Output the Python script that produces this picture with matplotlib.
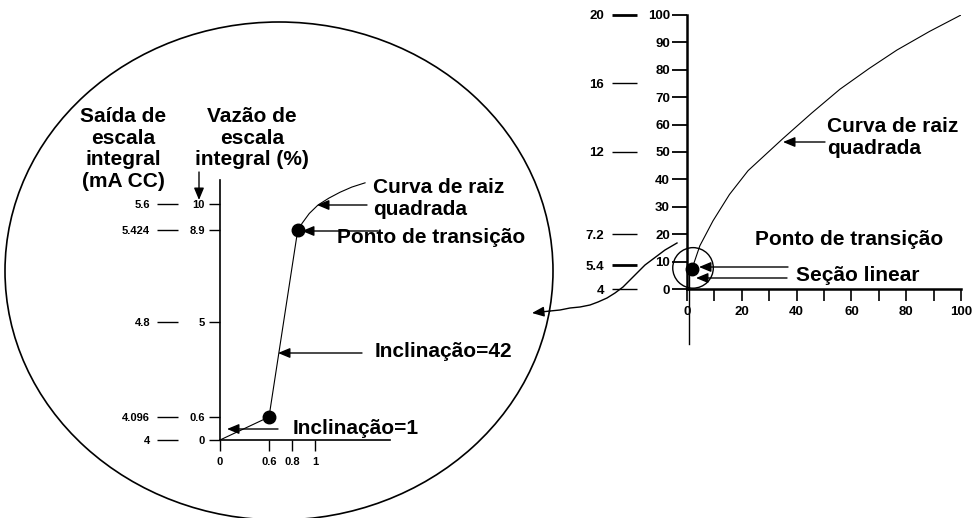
import numpy as np
import matplotlib
matplotlib.use("Agg")
import matplotlib.pyplot as plt
from matplotlib.patches import Ellipse, Circle

plt.rcParams["font.family"] = ["Liberation Sans", "DejaVu Sans"]
plt.rcParams["font.weight"] = "bold"

W, H = 977, 518

# ── Data: zoomed detail (left) ─────────────────────────────
zoom_x_ticks  = [0, 0.6, 0.8, 1]
zoom_x_labels = ["0", "0.6", "0.8", "1"]
zoom_y_ticks  = [0, 0.6, 5, 8.9, 10]
zoom_y_labels = ["0", "0.6", "5", "8.9", "10"]
zoom_ma_labels = ["4", "4.096", "4.8", "5.424", "5.6"]
slope1_x  = [0, 0.6]
slope1_y  = [0, 0.6]
slope42_x = [0.6, 0.85]
slope42_y = [0.6, 8.9]
root_zoom_x = [0.85, 0.89, 0.95, 1.026, 1.12, 1.217, 1.32, 1.435]
root_zoom_y = [8.9, 9.2, 9.6, 9.96, 10.25, 10.5, 10.72, 10.9]
zoom_dots_x = [0.6, 0.85]
zoom_dots_y = [0.6, 8.9]

# ── Data: full scale (right) ───────────────────────────────
full_x_major = [0, 20, 40, 60, 80, 100]
full_x_minor = [10, 30, 50, 70, 90]
full_y_ticks = [0, 10, 20, 30, 40, 50, 60, 70, 80, 90, 100]
full_ma_pos    = [0, 8.75, 20, 50, 75, 100]
full_ma_labels = ["4", "5.4", "7.2", "12", "16", "20"]
root_full_x = [1.8, 4.7, 9.5, 15.5, 22.3, 35.0, 45.5, 55.8, 66.5, 76.6, 88.5, 100]
root_full_y = [7.3, 15.8, 24.9, 34.5, 43.2, 54.9, 64.2, 72.9, 80.5, 87.2, 94.0, 100]
trans_full = (1.8, 7.3)
linear_mark_x = [0.9, 0.9]
linear_mark_y = [7, -20]

# piecewise-linear axis scales of the schematic detail
def piecewise(kd, kp):
    kd = np.asarray(kd, float); kp = np.asarray(kp, float)
    return (lambda v: np.interp(v, kd, kp), lambda v: np.interp(v, kp, kd))

fx = piecewise([-1, 0, 0.6, 1, 3], [-0.71, 0, 0.426, 0.826, 2.826])
fy = piecewise([-2, 0, 0.6, 5, 10, 14], [-2, 0, 0.975, 5, 10, 14])

fig = plt.figure(figsize=(W / 100, H / 100), dpi=100)

def px_box(x0, y_bottom, w, h):
    return [x0 / W, (H - y_bottom) / H, w / W, h / H]

# ── Left: detail plot ──────────────────────────────────────
ax = fig.add_axes(px_box(220, 440, 170, 260))
ax.set_xscale("function", functions=fx)
ax.set_yscale("function", functions=fy)
ax.set_xlim(0, 1.652)
ax.set_ylim(0, 11.02)
for s in ["top", "right"]:
    ax.spines[s].set_visible(False)
for s in ["left", "bottom"]:
    ax.spines[s].set_linewidth(1.2)
ax.set_xticks(zoom_x_ticks, zoom_x_labels)
ax.set_yticks(zoom_y_ticks, zoom_y_labels)
ax.minorticks_off()
ax.tick_params(axis="x", direction="out", length=8, width=1, pad=4, labelsize=8)
ax.tick_params(axis="y", direction="out", length=8, width=1, pad=3, labelsize=8)
ax.patch.set_alpha(0)

ax.plot(slope1_x, slope1_y, color="black", lw=0.8)
ax.plot(slope42_x, slope42_y, color="black", lw=0.8)
ax.plot(root_zoom_x, root_zoom_y, color="black", lw=0.8, clip_on=False)
ax.plot(zoom_dots_x, zoom_dots_y, "o", color="black", ms=9, clip_on=False)

# mA scale of the detail
ax_ma = fig.add_axes(px_box(178, 440, 1, 260))
ax_ma.set_yscale("function", functions=fy)
ax_ma.set_ylim(0, 11.02)
ax_ma.set_yticks(zoom_y_ticks, zoom_ma_labels)
ax_ma.minorticks_off()
ax_ma.set_xticks([])
for s in ax_ma.spines.values():
    s.set_visible(False)
ax_ma.tick_params(axis="y", direction="out", length=15, width=1, pad=5, labelsize=8)
ax_ma.patch.set_alpha(0)

# ── Right: full scale plot ─────────────────────────────────
axr = fig.add_axes(px_box(687, 289, 274, 274))
axr.set_xlim(0, 100)
axr.set_ylim(0, 100)
for s in ["top", "right"]:
    axr.spines[s].set_visible(False)
for s in ["left", "bottom"]:
    axr.spines[s].set_linewidth(1.8)
axr.set_xticks(full_x_major, [str(v) for v in full_x_major])
axr.set_xticks(full_x_minor, minor=True)
axr.set_yticks(full_y_ticks, [str(v) for v in full_y_ticks])
axr.tick_params(axis="x", which="both", direction="out", length=8.6, width=1.2,
                pad=3.5, labelsize=9.5)
axr.tick_params(axis="y", direction="out", length=10.8, width=1.3, pad=1.5, labelsize=9.5)
axr.patch.set_alpha(0)

axr.plot(root_full_x, root_full_y, color="black", lw=0.8)
axr.plot(linear_mark_x, linear_mark_y, color="black", lw=1, clip_on=False)
axr.plot(*trans_full, "o", color="black", ms=9, clip_on=False)
axr.add_patch(Circle((2.2, 7.7), 7.4, fill=False, lw=1, clip_on=False))

axr_ma = fig.add_axes(px_box(637, 289, 1, 274))
axr_ma.set_ylim(0, 100)
axr_ma.set_yticks(full_ma_pos, full_ma_labels)
axr_ma.set_xticks([])
for s in axr_ma.spines.values():
    s.set_visible(False)
axr_ma.tick_params(axis="y", direction="out", length=18, width=1, pad=5.8, labelsize=9.5)
for t, lab in zip(axr_ma.yaxis.get_major_ticks(), full_ma_labels):
    if lab in ("20", "5.4"):
        t.tick1line.set_markeredgewidth(2)
axr_ma.patch.set_alpha(0)

# ── Overlay: magnifier ellipse, connector, annotations ─────
ov = fig.add_axes([0, 0, 1, 1], zorder=5)
ov.set_xlim(0, W)
ov.set_ylim(H, 0)
ov.axis("off")
ov.patch.set_alpha(0)

ov.add_patch(Ellipse((279, 271), 548, 498, fill=False, lw=1.2, color="black"))

conn_x = [677, 665, 653, 645, 637, 630, 623, 615, 607, 598, 590, 580, 570, 560, 550]
conn_y = [243, 250, 259, 265, 273, 280, 287, 293, 298, 302, 305, 307, 308, 310, 311]
ov.plot(conn_x, conn_y, color="black", lw=1)

ARW = dict(arrowstyle="-|>,head_length=0.6,head_width=0.25", color="black",
           lw=1, mutation_scale=12, shrinkA=0, shrinkB=0)

def arrow(x0, y0, x1, y1):
    ov.annotate("", xy=(x1, y1), xytext=(x0, y0), arrowprops=ARW)

arrow(550, 311, 532, 313)
arrow(367, 205, 317, 205)
arrow(378, 231, 302, 231)
arrow(362, 353, 278, 353)
arrow(278, 429, 227, 429)
arrow(199, 172, 199, 200)
arrow(825, 142, 783, 142)
arrow(788, 267, 699, 267)
arrow(787, 278, 696, 278)

FS = 15
def lines(x, y0, texts, ha="left", step=21.7):
    for i, t in enumerate(texts):
        ov.text(x, y0 + i * step, t, fontsize=FS, ha=ha, va="baseline")

lines(123, 122, ["Saída de", "escala", "integral", "(mA CC)"], ha="center")
lines(252, 122, ["Vazão de", "escala", "integral (%)"], ha="center")
lines(373, 193, ["Curva de raiz", "quadrada"])
lines(337, 243, ["Ponto de transição"])
lines(375, 357, ["Inclinação=42"])
lines(293, 434, ["Inclinação=1"])
lines(827, 132, ["Curva de raiz", "quadrada"])
lines(755, 245, ["Ponto de transição"])
lines(796, 281, ["Seção linear"])

fig.savefig("out.png", dpi=100)
